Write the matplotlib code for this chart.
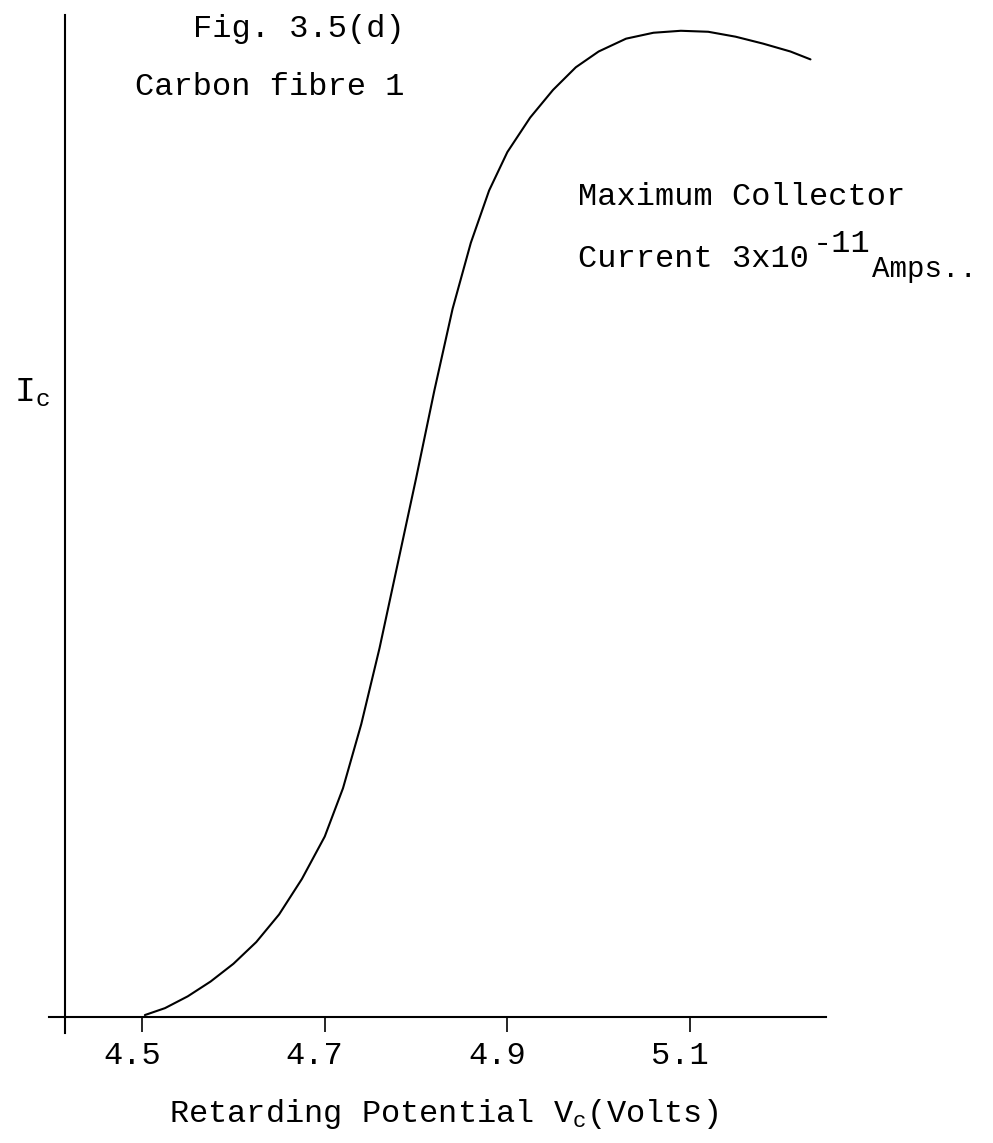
import matplotlib
matplotlib.use("Agg")
import matplotlib.pyplot as plt
import matplotlib.transforms as mtransforms

# values (I_c normalised to its maximum)
voltage = [4.503, 4.525, 4.550, 4.575, 4.600, 4.625, 4.650, 4.675, 4.700, 4.720,
           4.740, 4.760, 4.780, 4.800, 4.820, 4.840, 4.860, 4.880, 4.900, 4.925,
           4.950, 4.975, 5.000, 5.030, 5.060, 5.090, 5.120, 5.150, 5.180, 5.210, 5.232]
current = [0.002, 0.009, 0.021, 0.036, 0.054, 0.076, 0.104, 0.140, 0.183, 0.232,
           0.297, 0.374, 0.460, 0.546, 0.635, 0.718, 0.785, 0.838, 0.877, 0.912,
           0.940, 0.963, 0.979, 0.992, 0.998, 1.000, 0.999, 0.994, 0.987, 0.979, 0.971]
tick_values = [4.5, 4.7, 4.9, 5.1]
tick_labels = ["4.5", "4.7", "4.9", "5.1"]

FONT = "Liberation Mono"
plt.rcParams["font.family"] = [FONT, "DejaVu Sans"]
plt.rcParams["mathtext.fontset"] = "custom"
plt.rcParams["mathtext.rm"] = FONT
plt.rcParams["mathtext.it"] = FONT
plt.rcParams["mathtext.default"] = "rm"

W, H = 993, 1143
fig = plt.figure(figsize=(W / 100, H / 100), dpi=100)
fig.patch.set_facecolor("white")

# axes box in pixels: x 49..826, y 15..1033 (from top)
ax = fig.add_axes([49 / W, (H - 1033) / H, 777 / W, 1018 / H])
ax.set_xlim(4.398, 5.249)
ax.set_ylim(-0.0162, 1.016)
ax.patch.set_alpha(0)

ax.plot(voltage, current, color="black", lw=1.5, solid_joinstyle="round",
        solid_capstyle="round")

for s in ["top", "right"]:
    ax.spines[s].set_visible(False)
ax.spines["left"].set_position(("data", 4.4157))
ax.spines["bottom"].set_position(("data", 0))
for s in ["left", "bottom"]:
    ax.spines[s].set_linewidth(1.5)
    ax.spines[s].set_color("black")

ax.set_yticks([])
ax.set_xticks(tick_values)
ax.set_xticklabels(tick_labels, fontsize=23)
ax.tick_params(axis="x", direction="out", length=11, width=1.2, pad=6, colors="black")
shift = mtransforms.ScaledTranslation(-10 / 100, 0, fig.dpi_scale_trans)
for lab in ax.get_xticklabels():
    lab.set_transform(lab.get_transform() + shift)

px = mtransforms.IdentityTransform()


def put(x, y_top, s, size=23, **kw):
    fig.text(x, H - y_top, s, transform=px, fontsize=size, color="black", **kw)


put(193, 29, "Fig. 3.5(d)", va="center")
put(135, 87, "Carbon fibre 1", va="center")
put(578, 197, "Maximum Collector", va="center")
put(578, 259, "Current 3x10", va="center")
put(813, 244, "-11", va="center")
put(872, 269, "Amps..", size=21, va="center")
put(14, 393, r"I$_\mathrm{c}$", size=25, va="center")
put(443, 1114, r"Retarding Potential V$_\mathrm{c}$(Volts)", ha="center", va="center")

fig.savefig("out.png", dpi=100, facecolor="white")
